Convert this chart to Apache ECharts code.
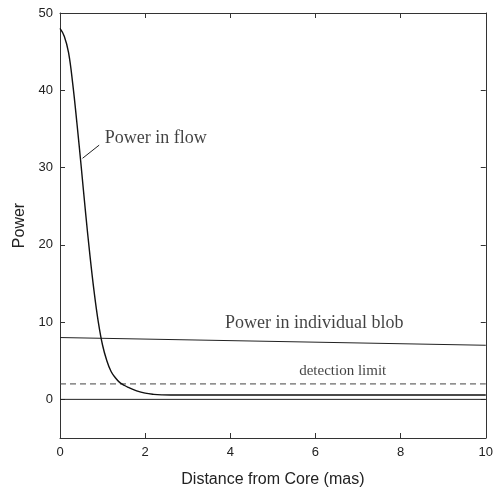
<!DOCTYPE html>
<html>
<head>
<meta charset="utf-8">
<script src="https://cdn.jsdelivr.net/npm/echarts@6/dist/echarts.min.js"></script>
<style>
html,body{margin:0;padding:0;background:#fff;}
#chart{width:496px;height:493px;}
</style>
</head>
<body>
<div id="chart"></div>
<script>
// ---- data ----
const flowX = [0, 0.1, 0.2, 0.3, 0.4, 0.5, 0.6, 0.7, 0.8, 0.9, 1.0, 1.1, 1.2, 1.3, 1.4, 1.5, 1.6, 1.8, 2.0, 2.2, 2.4, 2.6, 3, 4, 6, 8, 10];
const flowY = [48.0, 47.0, 44.9, 40.8, 35.6, 30.0, 24.2, 18.8, 14.0, 10.0, 7.0, 5.0, 3.6, 2.8, 2.2, 1.85, 1.55, 1.1, 0.8, 0.65, 0.58, 0.56, 0.56, 0.56, 0.56, 0.56, 0.56];
const blobX = [0, 10];
const blobY = [8.0, 7.0];
const detectionX = [0, 10];
const detectionY = [2, 2];
const zeroX = [0, 10];
const zeroY = [0, 0];
const leaderX = [0.53, 0.92];
const leaderY = [31.2, 32.9];
const xTicks = [0, 2, 4, 6, 8, 10];
const yTicks = [0, 10, 20, 30, 40, 50];
const labelTexts = ['Power in flow', 'Power in individual blob', 'detection limit'];
const labelX = [2.25, 5.97, 6.64];
const labelY = [33.8, 9.8, 3.6];

const pairs = (xs, ys) => xs.map((x, i) => [x, ys[i]]);

const axisColor = '#333';
const serif = '"Liberation Serif", "DejaVu Serif", serif';
const sans = '"Liberation Sans", Arial, sans-serif';

const chart = echarts.init(document.getElementById('chart'), null, {renderer: 'canvas'});

const xBase = {
  type: 'value', min: 0, max: 10, interval: 2,
  axisLine: {show: true, onZero: false, lineStyle: {color: axisColor, width: 1}},
  axisTick: {show: true, inside: true, length: 5, lineStyle: {color: axisColor}},
  splitLine: {show: false}
};
const yBase = {
  type: 'value', min: -5, max: 50,
  axisLine: {show: true, onZero: false, lineStyle: {color: axisColor, width: 1}},
  axisTick: {show: true, inside: true, length: 5, customValues: yTicks, lineStyle: {color: axisColor}},
  splitLine: {show: false}
};

chart.setOption({
  animation: false,
  backgroundColor: '#fff',
  grid: {left: 60, right: 9, top: 13, bottom: 53, containLabel: false},
  xAxis: [
    Object.assign({}, xBase, {
      position: 'bottom',
      name: 'Distance from Core (mas)', nameLocation: 'middle', nameGap: 34,
      nameTextStyle: {fontFamily: sans, fontSize: 16, color: '#222'},
      axisLabel: {show: true, margin: 8, fontFamily: sans, fontSize: 13, color: '#222',
        customValues: xTicks}
    }),
    Object.assign({}, xBase, {position: 'top', axisLabel: {show: false}})
  ],
  yAxis: [
    Object.assign({}, yBase, {
      position: 'left',
      name: 'Power', nameLocation: 'middle', nameGap: 32, nameRotate: 90,
      nameTextStyle: {fontFamily: sans, fontSize: 16, color: '#222'},
      axisLabel: {show: true, margin: 7, fontFamily: sans, fontSize: 13, color: '#222',
        customValues: yTicks}
    }),
    Object.assign({}, yBase, {position: 'right', axisLabel: {show: false}})
  ],
  series: [
    {type: 'line', name: 'zero', data: pairs(zeroX, zeroY), showSymbol: false,
      lineStyle: {color: '#222', width: 1}, silent: true},
    {type: 'line', name: 'detection', data: pairs(detectionX, detectionY), showSymbol: false,
      lineStyle: {color: '#444', width: 1, type: [6, 4]}, silent: true},
    {type: 'line', name: 'blob', data: pairs(blobX, blobY), showSymbol: false,
      lineStyle: {color: '#222', width: 1}, silent: true},
    {type: 'line', name: 'flow', data: pairs(flowX, flowY), showSymbol: false,
      smooth: 0.4,
      lineStyle: {color: '#111', width: 1.4}, silent: true},
    {type: 'line', name: 'leader', data: pairs(leaderX, leaderY), showSymbol: false,
      lineStyle: {color: '#222', width: 1}, silent: true},
    {type: 'scatter', name: 'labels', symbolSize: 1, itemStyle: {color: 'rgba(0,0,0,0)'},
      silent: true,
      data: labelTexts.map((t, i) => ({
        value: [labelX[i], labelY[i]], name: t,
        label: {show: true, position: 'inside', formatter: t,
          fontFamily: serif, fontSize: i === 2 ? 15 : 18, color: '#111'}
      }))
    }
  ]
});
</script>
</body>
</html>
